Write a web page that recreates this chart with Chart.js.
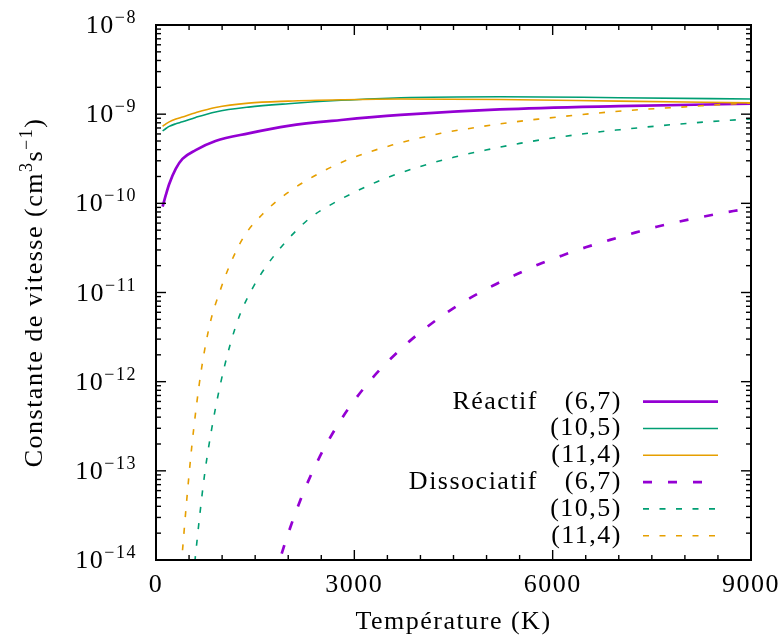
<!DOCTYPE html>
<html><head><meta charset="utf-8">
<script src="https://cdn.jsdelivr.net/npm/chart.js@4/dist/chart.umd.min.js"></script>
<style>html,body{margin:0;padding:0;background:#fff}#wrap{width:779px;height:638px;position:relative}</style>
</head><body><div id="wrap"><canvas id="c"></canvas></div>
<script>
// ---- data ----
const groupNames = ['Réactif', 'Dissociatif'];
const pairNames = ['(6,7)', '(10,5)', '(11,4)'];
const xTickValues = [0, 3000, 6000, 9000];
const xTickLabels = ['0', '3000', '6000', '9000'];
const yTickValues = [1e-14, 1e-13, 1e-12, 1e-11, 1e-10, 1e-9, 1e-8];
const yTickBase = '10';
const yTickExponents = ['−14', '−13', '−12', '−11', '−10', '−9', '−8'];
const xTitle = 'Température (K)';
const yTitleParts = [['Constante de vitesse (cm', 0], ['3', 1], ['s', 0], ['−1', 1], [')', 0]];

const tReact = [100, 150, 200, 300, 400, 600, 900, 1400, 2000, 2800, 3700, 5200, 7000, 9000];
const kReact67 = [9.2e-11, 1.25e-10, 1.65e-10, 2.45e-10, 3.15e-10, 3.95e-10, 5.0e-10, 6.1e-10, 7.4e-10, 8.6e-10, 9.8e-10, 1.13e-9, 1.23e-9, 1.31e-9];
const kReact105 = [6.5e-10, 6.9e-10, 7.3e-10, 7.8e-10, 8.2e-10, 9.2e-10, 1.06e-9, 1.2e-9, 1.31e-9, 1.43e-9, 1.53e-9, 1.57e-9, 1.53e-9, 1.48e-9];
const kReact114 = [7.3e-10, 7.8e-10, 8.2e-10, 8.8e-10, 9.3e-10, 1.04e-9, 1.19e-9, 1.33e-9, 1.40e-9, 1.45e-9, 1.48e-9, 1.46e-9, 1.40e-9, 1.34e-9];

const tDiss67 = [1800, 1876, 2027, 2229, 2481, 2784, 3036, 3288, 3499, 3832, 4119, 4422, 4760, 5093, 5431, 5784, 6137, 6500, 6868, 7246, 7575, 8150, 8734, 9000];
const kDiss67 = [6.3e-15, 1.02e-14, 2.27e-14, 5.7e-14, 1.46e-13, 3.61e-13, 6.68e-13, 1.13e-12, 1.66e-12, 2.83e-12, 4.21e-12, 6.11e-12, 8.75e-12, 1.19e-11, 1.57e-11, 2.06e-11, 2.59e-11, 3.21e-11, 3.89e-11, 4.69e-11, 5.47e-11, 6.79e-11, 8.2e-11, 8.81e-11];
const tDiss105 = [560, 590, 665, 740, 845, 970, 1120, 1270, 1470, 1670, 1980, 2330, 2680, 3290, 3510, 3990, 4500, 4990, 5500, 6000, 6720, 7020, 7780, 8530, 9000];
const kDiss105 = [6.2e-15, 1.0e-14, 3.34e-14, 9.7e-14, 3.03e-13, 9.06e-13, 2.58e-12, 5.66e-12, 1.15e-11, 1.98e-11, 3.83e-11, 6.85e-11, 1.0e-10, 1.68e-10, 1.96e-10, 2.58e-10, 3.28e-10, 3.96e-10, 4.7e-10, 5.4e-10, 6.35e-10, 6.7e-10, 7.6e-10, 8.4e-10, 8.85e-10];
const tDiss114 = [360, 390, 465, 540, 616, 691, 817, 968, 1120, 1321, 1624, 1977, 2380, 2890, 3570, 4310, 4820, 5320, 5780, 7070, 8100, 8610, 9000];
const kDiss114 = [5.5e-15, 1.02e-14, 4.71e-14, 1.83e-13, 5.69e-13, 1.44e-12, 4.49e-12, 1.04e-11, 2.06e-11, 4.14e-11, 7.73e-11, 1.29e-10, 2.0e-10, 3.06e-10, 4.5e-10, 6.1e-10, 7.06e-10, 8.0e-10, 8.8e-10, 1.09e-9, 1.22e-9, 1.29e-9, 1.33e-9];

// ---- styles ----
const FONT = "'Liberation Serif', 'DejaVu Serif', serif";
const FS = 26;
const SUPFS = 18;
const SUPRAISE = 10;
const LS = '1.5px';
const colors = ['#9400d3', '#009e73', '#e69f00'];

const zip = (xs, ys) => xs.map((x, i) => ({x: x, y: ys[i]}));

const seriesDefs = [
  {g: 0, p: 0, t: tReact, k: kReact67, w: 2.7, dash: []},
  {g: 0, p: 1, t: tReact, k: kReact105, w: 1.6, dash: []},
  {g: 0, p: 2, t: tReact, k: kReact114, w: 1.6, dash: []},
  {g: 1, p: 0, t: tDiss67, k: kDiss67, w: 2.7, dash: [9, 16]},
  {g: 1, p: 1, t: tDiss105, k: kDiss105, w: 1.6, dash: [6, 10.5]},
  {g: 1, p: 2, t: tDiss114, k: kDiss114, w: 1.6, dash: [6, 10.5]},
];

const datasets = seriesDefs.map(s => ({
  label: groupNames[s.g] + ' ' + pairNames[s.p],
  data: zip(s.t, s.k),
  borderColor: colors[s.p],
  backgroundColor: colors[s.p],
  borderWidth: s.w,
  borderDash: s.dash,
  pointRadius: 0,
  fill: false,
  cubicInterpolationMode: 'monotone',
  _group: s.g, _pair: s.p
})).reverse();

Chart.defaults.font.family = FONT;
Chart.defaults.font.size = FS;
Chart.defaults.color = '#000';

const spacingPlugin = {
  id: 'spacing',
  beforeUpdate(chart) { chart.ctx.letterSpacing = LS; },
  beforeLayout(chart) { chart.ctx.letterSpacing = LS; },
  beforeDraw(chart) { chart.ctx.letterSpacing = LS; }
};

function drawParts(ctx, parts, x0, yBase) {
  let x = x0;
  parts.forEach(([txt, sup]) => {
    ctx.font = (sup ? SUPFS : FS) + 'px ' + FONT;
    ctx.fillText(txt, x, sup ? yBase - SUPRAISE : yBase);
    x += ctx.measureText(txt).width;
  });
  return x - x0;
}
function partsWidth(ctx, parts) {
  let w = 0;
  parts.forEach(([txt, sup]) => { ctx.font = (sup ? SUPFS : FS) + 'px ' + FONT; w += ctx.measureText(txt).width; });
  return w;
}

const framePlugin = {
  id: 'frame',
  afterDatasetsDraw(chart) {
    const {ctx, chartArea: a, scales: {x, y}} = chart;
    ctx.save();
    ctx.letterSpacing = LS;
    ctx.strokeStyle = '#000';
    ctx.lineWidth = 1.4;
    ctx.setLineDash([]);
    const seg = (x1, y1, x2, y2) => { ctx.beginPath(); ctx.moveTo(x1, y1); ctx.lineTo(x2, y2); ctx.stroke(); };
    for (let v = x.min; v <= x.max + 1e-6; v += 500) {
      const px = x.getPixelForValue(v);
      const len = xTickValues.includes(v) ? 10 : 5;
      seg(px, a.bottom, px, a.bottom - len);
      seg(px, a.top, px, a.top + len);
    }
    for (let e = -14; e <= -8; e++) {
      for (let m = 1; m <= 9; m++) {
        if (e === -8 && m > 1) break;
        const py = y.getPixelForValue(m * Math.pow(10, e));
        const len = m === 1 ? 10 : 5;
        seg(a.left, py, a.left + len, py);
        seg(a.right, py, a.right - len, py);
      }
    }
    ctx.lineWidth = 2;
    ctx.strokeRect(a.left, a.top, a.right - a.left, a.bottom - a.top);

    ctx.fillStyle = '#000';
    // y tick labels
    ctx.textAlign = 'left';
    ctx.textBaseline = 'alphabetic';
    yTickValues.forEach((v, i) => {
      const py = y.getPixelForValue(v);
      const parts = [[yTickBase, 0], [yTickExponents[i], 1]];
      const w = partsWidth(ctx, parts);
      drawParts(ctx, parts, a.left - 19 - w, py + 8);
    });
    // y title (rotated)
    ctx.save();
    ctx.translate(42, (a.top + a.bottom) / 2);
    ctx.rotate(-Math.PI / 2);
    const tw = partsWidth(ctx, yTitleParts);
    drawParts(ctx, yTitleParts, -tw / 2, 0);
    ctx.restore();

    // legend
    ctx.font = FS + 'px ' + FONT;
    ctx.textBaseline = 'middle';
    ctx.textAlign = 'right';
    const rowH = 26.8;
    const y0 = a.bottom - 158.3;
    const order = chart.data.datasets.slice().reverse();
    order.forEach((ds, i) => {
      const ry = y0 + i * rowH;
      if (ds._pair === 0) ctx.fillText(groupNames[ds._group], a.right - 213, ry);
      ctx.fillText(pairNames[ds._pair], a.right - 129, ry);
      ctx.strokeStyle = ds.borderColor;
      ctx.lineWidth = ds.borderWidth;
      ctx.setLineDash(ds.borderDash);
      seg(a.right - 108, ry, a.right - 33, ry);
    });
    ctx.restore();
  }
};

new Chart(document.getElementById('c'), {
  type: 'line',
  data: {datasets},
  options: {
    responsive: true,
    maintainAspectRatio: false,
    animation: false,
    events: [],
    layout: {padding: {top: 25, right: 28, bottom: 0, left: 0}},
    plugins: {legend: {display: false}, tooltip: {enabled: false}},
    scales: {
      x: {
        type: 'linear', min: 0, max: 9000,
        grid: {display: false, drawTicks: false},
        border: {display: false},
        afterBuildTicks: s => { s.ticks = xTickValues.map(v => ({value: v})); },
        afterFit: s => { s.height = 78; s.paddingLeft = 0; s.paddingRight = 0; },
        ticks: {autoSkip: false, maxRotation: 0, padding: 10, callback: (v, i) => xTickLabels[i]},
        title: {display: true, text: xTitle, padding: {top: 0, bottom: 0}}
      },
      y: {
        type: 'logarithmic', min: 1e-14, max: 1e-8,
        grid: {display: false, drawTicks: false},
        border: {display: false},
        afterBuildTicks: s => { s.ticks = yTickValues.map(v => ({value: v})); },
        afterFit: s => { s.width = 156; s.paddingTop = 0; s.paddingBottom = 0; },
        ticks: {display: false},
        title: {display: false}
      }
    }
  },
  plugins: [spacingPlugin, framePlugin]
});
</script>
</body></html>
